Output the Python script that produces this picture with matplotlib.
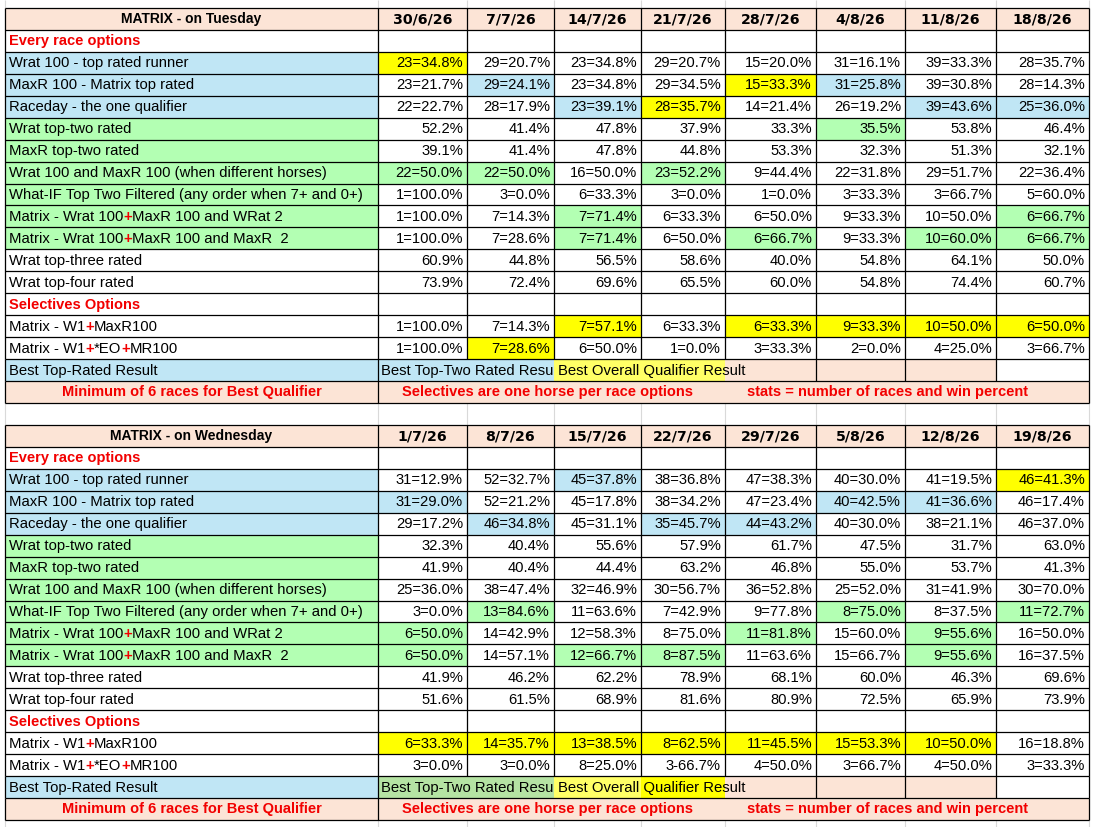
import matplotlib
matplotlib.use('Agg')
import matplotlib.pyplot as plt
from matplotlib.patches import Rectangle

# ---- data ----
tue_title = 'MATRIX - on Tuesday'
wed_title = 'MATRIX - on Wednesday'
tue_dates = ['30/6/26', '7/7/26', '14/7/26', '21/7/26', '28/7/26', '4/8/26', '11/8/26', '18/8/26']
wed_dates = ['1/7/26', '8/7/26', '15/7/26', '22/7/26', '29/7/26', '5/8/26', '12/8/26', '19/8/26']

every_labels = [
    'Wrat 100 - top rated runner',
    'MaxR 100 - Matrix top rated',
    'Raceday - the one qualifier',
    'Wrat top-two rated',
    'MaxR top-two rated',
    'Wrat 100 and MaxR 100 (when different horses)',
    'What-IF Top Two Filtered (any order when 7+ and 0+)',
    'Matrix - Wrat 100+MaxR 100 and WRat 2',
    'Matrix - Wrat 100+MaxR 100 and MaxR  2',
    'Wrat top-three rated',
    'Wrat top-four rated',
]
select_labels = ['Matrix - W1+MaxR100', 'Matrix - W1+*EO+MR100']
red_plus_labels = every_labels[7:9] + select_labels

tue_wrat100 = ['23=34.8%', '29=20.7%', '23=34.8%', '29=20.7%', '15=20.0%', '31=16.1%', '39=33.3%', '28=35.7%']
tue_maxr100 = ['23=21.7%', '29=24.1%', '23=34.8%', '29=34.5%', '15=33.3%', '31=25.8%', '39=30.8%', '28=14.3%']
tue_raceday = ['22=22.7%', '28=17.9%', '23=39.1%', '28=35.7%', '14=21.4%', '26=19.2%', '39=43.6%', '25=36.0%']
tue_wrat_top2 = ['52.2%', '41.4%', '47.8%', '37.9%', '33.3%', '35.5%', '53.8%', '46.4%']
tue_maxr_top2 = ['39.1%', '41.4%', '47.8%', '44.8%', '53.3%', '32.3%', '51.3%', '32.1%']
tue_wrat_maxr = ['22=50.0%', '22=50.0%', '16=50.0%', '23=52.2%', '9=44.4%', '22=31.8%', '29=51.7%', '22=36.4%']
tue_whatif = ['1=100.0%', '3=0.0%', '6=33.3%', '3=0.0%', '1=0.0%', '3=33.3%', '3=66.7%', '5=60.0%']
tue_matrix_w2 = ['1=100.0%', '7=14.3%', '7=71.4%', '6=33.3%', '6=50.0%', '9=33.3%', '10=50.0%', '6=66.7%']
tue_matrix_m2 = ['1=100.0%', '7=28.6%', '7=71.4%', '6=50.0%', '6=66.7%', '9=33.3%', '10=60.0%', '6=66.7%']
tue_top3 = ['60.9%', '44.8%', '56.5%', '58.6%', '40.0%', '54.8%', '64.1%', '50.0%']
tue_top4 = ['73.9%', '72.4%', '69.6%', '65.5%', '60.0%', '54.8%', '74.4%', '60.7%']
tue_w1_maxr = ['1=100.0%', '7=14.3%', '7=57.1%', '6=33.3%', '6=33.3%', '9=33.3%', '10=50.0%', '6=50.0%']
tue_w1_eo = ['1=100.0%', '7=28.6%', '6=50.0%', '1=0.0%', '3=33.3%', '2=0.0%', '4=25.0%', '3=66.7%']

wed_wrat100 = ['31=12.9%', '52=32.7%', '45=37.8%', '38=36.8%', '47=38.3%', '40=30.0%', '41=19.5%', '46=41.3%']
wed_maxr100 = ['31=29.0%', '52=21.2%', '45=17.8%', '38=34.2%', '47=23.4%', '40=42.5%', '41=36.6%', '46=17.4%']
wed_raceday = ['29=17.2%', '46=34.8%', '45=31.1%', '35=45.7%', '44=43.2%', '40=30.0%', '38=21.1%', '46=37.0%']
wed_wrat_top2 = ['32.3%', '40.4%', '55.6%', '57.9%', '61.7%', '47.5%', '31.7%', '63.0%']
wed_maxr_top2 = ['41.9%', '40.4%', '44.4%', '63.2%', '46.8%', '55.0%', '53.7%', '41.3%']
wed_wrat_maxr = ['25=36.0%', '38=47.4%', '32=46.9%', '30=56.7%', '36=52.8%', '25=52.0%', '31=41.9%', '30=70.0%']
wed_whatif = ['3=0.0%', '13=84.6%', '11=63.6%', '7=42.9%', '9=77.8%', '8=75.0%', '8=37.5%', '11=72.7%']
wed_matrix_w2 = ['6=50.0%', '14=42.9%', '12=58.3%', '8=75.0%', '11=81.8%', '15=60.0%', '9=55.6%', '16=50.0%']
wed_matrix_m2 = ['6=50.0%', '14=57.1%', '12=66.7%', '8=87.5%', '11=63.6%', '15=66.7%', '9=55.6%', '16=37.5%']
wed_top3 = ['41.9%', '46.2%', '62.2%', '78.9%', '68.1%', '60.0%', '46.3%', '69.6%']
wed_top4 = ['51.6%', '61.5%', '68.9%', '81.6%', '80.9%', '72.5%', '65.9%', '73.9%']
wed_w1_maxr = ['6=33.3%', '14=35.7%', '13=38.5%', '8=62.5%', '11=45.5%', '15=53.3%', '10=50.0%', '16=18.8%']
wed_w1_eo = ['3=0.0%', '3=0.0%', '8=25.0%', '3-66.7%', '4=50.0%', '3=66.7%', '4=50.0%', '3=33.3%']

tue_every = [tue_wrat100, tue_maxr100, tue_raceday, tue_wrat_top2, tue_maxr_top2, tue_wrat_maxr,
             tue_whatif, tue_matrix_w2, tue_matrix_m2, tue_top3, tue_top4]
tue_select = [tue_w1_maxr, tue_w1_eo]
wed_every = [wed_wrat100, wed_maxr100, wed_raceday, wed_wrat_top2, wed_maxr_top2, wed_wrat_maxr,
             wed_whatif, wed_matrix_w2, wed_matrix_m2, wed_top3, wed_top4]
wed_select = [wed_w1_maxr, wed_w1_eo]

best_labels = ['Best Top-Rated Result', 'Best Top-Two Rated Result', 'Best Overall Qualifier Result']
note_texts = ['Minimum of 6 races for Best Qualifier', 'Selectives are one horse per race options',
              'stats = number of races and win percent']

# ---- styles ----
PEACH = '#fce4d6'
BLUE = '#c0e6f5'
GREEN = '#b3ffb3'
GREEN2 = '#b5e3a3'
YELLOW = '#ffff00'
LYELLOW = '#ffff66'
RED = '#f20000'
GRID = '#d9d9d9'

# highlighted cells: (block, row in block, column) -> colour
tue_fills = {
    ('e', 0, 0): YELLOW,
    ('e', 1, 1): BLUE, ('e', 1, 4): YELLOW, ('e', 1, 5): BLUE,
    ('e', 2, 2): BLUE, ('e', 2, 3): YELLOW, ('e', 2, 6): BLUE, ('e', 2, 7): BLUE,
    ('e', 3, 5): GREEN,
    ('e', 5, 0): GREEN, ('e', 5, 1): GREEN, ('e', 5, 3): GREEN,
    ('e', 7, 2): GREEN, ('e', 7, 7): GREEN,
    ('e', 8, 2): GREEN, ('e', 8, 4): GREEN, ('e', 8, 6): GREEN, ('e', 8, 7): GREEN,
    ('s', 0, 2): YELLOW, ('s', 0, 4): YELLOW, ('s', 0, 5): YELLOW, ('s', 0, 6): YELLOW, ('s', 0, 7): YELLOW,
    ('s', 1, 1): YELLOW,
}
wed_fills = {
    ('e', 0, 2): BLUE, ('e', 0, 7): YELLOW,
    ('e', 1, 0): BLUE, ('e', 1, 5): BLUE, ('e', 1, 6): BLUE,
    ('e', 2, 1): BLUE, ('e', 2, 3): BLUE, ('e', 2, 4): BLUE,
    ('e', 6, 1): GREEN, ('e', 6, 5): GREEN, ('e', 6, 7): GREEN,
    ('e', 7, 0): GREEN, ('e', 7, 4): GREEN, ('e', 7, 6): GREEN,
    ('e', 8, 0): GREEN, ('e', 8, 2): GREEN, ('e', 8, 3): GREEN, ('e', 8, 6): GREEN,
    ('s', 0, 0): YELLOW, ('s', 0, 1): YELLOW, ('s', 0, 2): YELLOW, ('s', 0, 3): YELLOW,
    ('s', 0, 4): YELLOW, ('s', 0, 5): YELLOW, ('s', 0, 6): YELLOW,
}
# best-row fill spans (start col, end col, colour)
tue_best = [(0, 2, BLUE), (2, 4, LYELLOW), (4, 5, PEACH), (5, 6, PEACH), (6, 7, PEACH), (7, 8, 'white')]
wed_best = [(0, 2, GREEN2), (2, 3, LYELLOW), (3, 4, YELLOW), (4, 5, PEACH), (5, 6, PEACH), (6, 7, PEACH), (7, 8, 'white')]

col_x = [5, 378, 467, 554, 641, 725, 816, 905, 996, 1089]
best_edges = [0, 1, 6, 7, 8, 9]   # column edges that keep a border in the key row
RH = 21.94
LAB = dict(family='Liberation Sans', size=10.7)
VAL = dict(family='Liberation Sans', size=10.6)
SEC = dict(family='Liberation Sans', size=10.5, weight='bold', color=RED)

W, H = 1094, 827
fig = plt.figure(figsize=(W / 100, H / 100), dpi=100)
ax = fig.add_axes([0, 0, 1, 1])
ax.set_xlim(0, W)
ax.set_ylim(H, 0)
ax.axis('off')
renderer = fig.canvas.get_renderer()

# spreadsheet gridlines in the background
ax.vlines(col_x, 0, H, color=GRID, lw=0.8, zorder=0)


def box(c0, c1, top, color):
    r = Rectangle((col_x[c0], top), col_x[c1] - col_x[c0], RH, facecolor=color, edgecolor='none', zorder=1)
    ax.add_patch(r)
    return r


def label(x, yc, s, red_plus=False, **kw):
    style = dict(LAB)
    style.update(kw)
    if not red_plus:
        return ax.text(x, yc, s, ha='left', va='center', zorder=3, **style)
    parts = s.split('+')
    for i, p in enumerate(parts):
        t = ax.text(x, yc, p, ha='left', va='center', zorder=3, **style)
        x += t.get_window_extent(renderer).width
        if i < len(parts) - 1:
            t = ax.text(x, yc, '+', ha='left', va='center', zorder=3, color=RED, weight='bold',
                        family=style['family'], size=style['size'])
            x += t.get_window_extent(renderer).width


def values_row(r_top, yc, vals, fills, key):
    for j, v in enumerate(vals):
        c = fills.get((key[0], key[1], j))
        if c:
            box(j + 1, j + 2, r_top, c)
        ax.text(col_x[j + 2] - 4, yc, v, ha='right', va='center', zorder=3, **VAL)


def draw_table(y0, title, dates, every, select, fills, best_spans):
    nrows = 18
    ys = [y0 + i * RH for i in range(nrows + 1)]
    yc = [y + RH / 2 + 0.5 for y in ys[:-1]]

    # header
    box(0, 9, ys[0], PEACH)
    ax.text((col_x[0] + col_x[1]) / 2, yc[0], title, ha='center', va='center', zorder=3,
            family='Liberation Sans', size=10, weight='bold')
    for j, d in enumerate(dates):
        ax.text((col_x[j + 1] + col_x[j + 2]) / 2, yc[0], d, ha='center', va='center', zorder=3,
                family='DejaVu Sans', size=10.2, weight='bold')

    label(9, yc[1], 'Every race options', **SEC)
    for i, (lab, vals) in enumerate(zip(every_labels, every)):
        r = 2 + i
        if i < 3:
            box(0, 1, ys[r], BLUE)
        elif i < 9:
            box(0, 1, ys[r], GREEN)
        label(9, yc[r], lab, red_plus=lab in red_plus_labels)
        values_row(ys[r], yc[r], vals, fills, ('e', i))

    label(9, yc[13], 'Selectives Options', **SEC)
    for i, (lab, vals) in enumerate(zip(select_labels, select)):
        r = 14 + i
        label(9, yc[r], lab, red_plus=True)
        values_row(ys[r], yc[r], vals, fills, ('s', i))

    # best-result key row
    box(0, 1, ys[16], BLUE)
    label(9, yc[16], best_labels[0])
    clip = None
    for c0, c1, col in best_spans:
        p = box(c0 + 1, c1 + 1, ys[16], col)
        if c0 == 0:
            clip = p
    t = label(col_x[1] + 3, yc[16], best_labels[1])
    t.set_clip_on(True)
    t.set_clip_path(clip)
    label(col_x[3] + 4, yc[16], best_labels[2])

    # note row
    box(0, 9, ys[17], PEACH)
    ax.text((col_x[0] + col_x[1]) / 2, yc[17], note_texts[0], ha='center', va='center', zorder=3,
            family='Liberation Sans', size=10.5, weight='bold', color=RED)
    label(402, yc[17], note_texts[1], **SEC)
    label(747, yc[17], note_texts[2], **SEC)

    # borders
    ax.hlines(ys, col_x[0], col_x[-1], color='black', lw=0.9, zorder=4)
    ax.vlines(col_x, ys[0], ys[16], color='black', lw=0.9, zorder=4)
    ax.vlines([col_x[k] for k in best_edges], ys[16], ys[17], color='black', lw=0.9, zorder=4)
    ax.vlines([col_x[0], col_x[1], col_x[-1]], ys[17], ys[18], color='black', lw=0.9, zorder=4)


draw_table(8, tue_title, tue_dates, tue_every, tue_select, tue_fills, tue_best)
draw_table(425, wed_title, wed_dates, wed_every, wed_select, wed_fills, wed_best)

fig.savefig('out.png', dpi=100)
